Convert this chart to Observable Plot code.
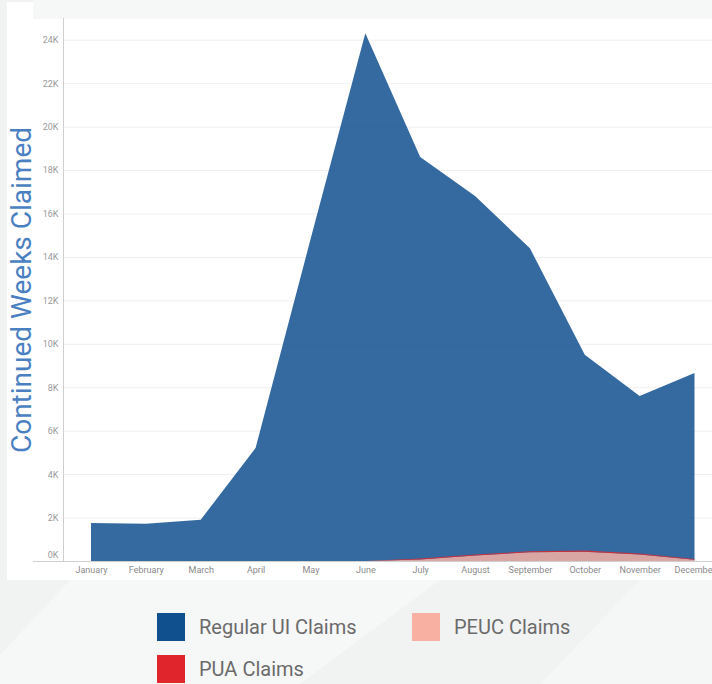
<!DOCTYPE html>
<html>
<head>
<meta charset="utf-8">
<script src="https://cdn.jsdelivr.net/npm/d3@7"></script>
<script src="https://cdn.jsdelivr.net/npm/@observablehq/plot@0.6"></script>
<style>
  html, body { margin: 0; padding: 0; }
  body { width: 712px; height: 684px; position: relative; overflow: hidden; background: #f1f2f2; font-family: Roboto, "Open Sans", sans-serif; }
  .deco1 { position: absolute; left: 0; top: 0; width: 712px; height: 684px; background: #f6f7f7; clip-path: polygon(0 655px, 70px 580px, 440px 580px, 300px 684px, 0 684px); }
  .deco2 { position: absolute; left: 0; top: 0; width: 712px; height: 684px; background: #f5f6f6; clip-path: polygon(540px 684px, 640px 580px, 712px 580px, 712px 684px); }
  .strip { position: absolute; left: 33px; top: 0; width: 679px; height: 19px; background: #f6f7f7; }
  .panel { position: absolute; left: 7px; top: 19px; width: 705px; height: 561px; background: #ffffff; }
  .stub { position: absolute; left: 7px; top: 2px; width: 26px; height: 17px; background: #ffffff; }
  #chart { position: absolute; left: 0; top: 0; }
  .ytitle { position: absolute; left: 21px; top: 290px; transform: translate(-50%, -50%) rotate(-90deg); white-space: nowrap; color: #4a7fc1; font-size: 28px; font-weight: 400; font-family: Roboto, sans-serif; }
  .legend { position: absolute; font-size: 20px; color: #6b6b6b; font-family: Roboto, sans-serif; }
  .legend .item { position: absolute; white-space: nowrap; display: flex; align-items: center; height: 28px; }
  .legend .sw { width: 28px; height: 28px; margin-right: 14px; }
</style>
</head>
<body>
<div class="deco1"></div>
<div class="deco2"></div>
<div class="strip"></div>
<div class="panel"></div>
<div class="stub"></div>
<div id="chart"></div>
<div class="ytitle">Continued Weeks Claimed</div>
<div class="legend" id="legend"></div>
<script>
const months = ["January","February","March","April","May","June","July","August","September","October","November","December"];
const regularUI = [1750, 1720, 1900, 5200, 14800, 24300, 18600, 16800, 14400, 9500, 7600, 8650];
const peuc = [0, 0, 0, 0, 0, 0, 70, 250, 400, 430, 300, 60];
const pua = [0, 0, 0, 0, 0, 0, 40, 50, 50, 50, 50, 30];
const seriesNames = ["Regular UI Claims", "PEUC Claims", "PUA Claims"];
const seriesColors = ["#11508f", "#f8b0a3", "#e0262c"];
const yTicks = [0, 2000, 4000, 6000, 8000, 10000, 12000, 14000, 16000, 18000, 20000, 22000, 24000];

const regularData = months.map((m, i) => ({month: m, value: regularUI[i], series: seriesNames[0]}));
const smallData = [
  ...months.map((m, i) => ({month: m, value: peuc[i], series: seriesNames[1]})),
  ...months.map((m, i) => ({month: m, value: pua[i], series: seriesNames[2]}))
];

const plot = Plot.plot({
  width: 712,
  height: 580,
  marginLeft: 63,
  marginRight: 0,
  marginTop: 18,
  marginBottom: 19,
  style: {background: "transparent", fontFamily: "Roboto, sans-serif", overflow: "visible"},
  x: {type: "point", domain: months, range: [91, 694.5], padding: 0, round: false},
  y: {domain: [0, 25000]},
  color: {domain: seriesNames, range: seriesColors},
  marks: [
    Plot.ruleY(yTicks.slice(1), {stroke: "#efefef", strokeWidth: 1}),
    Plot.areaY(regularData, {x: "month", y: "value", fill: "series", fillOpacity: 0.85, curve: "linear"}),
    Plot.areaY(smallData, {x: "month", y: "value", z: "series", fill: "series", fillOpacity: 0.85, order: [seriesNames[1], seriesNames[2]]}),
    Plot.ruleY([0], {stroke: "#cfcfcf", strokeWidth: 1}),
    Plot.ruleY([0], {stroke: "#cfcfcf", strokeWidth: 1, dx: -30}),
    Plot.frame({anchor: "left", stroke: "#cfcfcf"}),
    Plot.axisY(yTicks.slice(1), {tickSize: 0, tickPadding: 5, fontSize: 9, color: "#9a9a9a", tickFormat: d => (d / 1000) + "K", label: null}),
    Plot.axisY([0], {tickSize: 0, tickPadding: 5, fontSize: 9, color: "#9a9a9a", tickFormat: d => (d / 1000) + "K", label: null, dy: -6}),
    Plot.axisX({tickSize: 0, tickPadding: 5, fontSize: 9, color: "#8a8a8a", label: null})
  ]
});
document.getElementById("chart").appendChild(plot);

const legend = document.getElementById("legend");
const legendPos = [[157, 613], [412, 613], [157, 655]];
seriesNames.forEach((name, i) => {
  const item = document.createElement("div");
  item.className = "item";
  item.style.left = legendPos[i][0] + "px";
  item.style.top = legendPos[i][1] + "px";
  const sw = document.createElement("div");
  sw.className = "sw";
  sw.style.background = seriesColors[i];
  const label = document.createElement("span");
  label.textContent = name;
  item.appendChild(sw);
  item.appendChild(label);
  legend.appendChild(item);
});
</script>
</body>
</html>
